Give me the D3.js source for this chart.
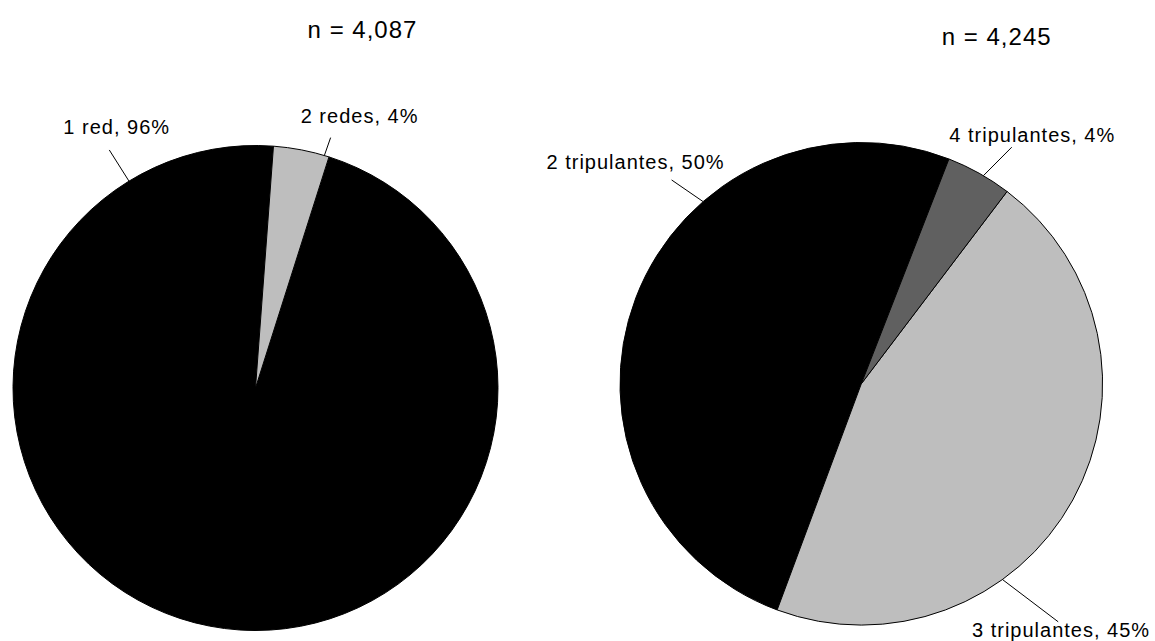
<!DOCTYPE html>
<html>
<head>
<meta charset="utf-8">
<script src="https://cdn.jsdelivr.net/npm/d3@7"></script>
<style>
  html, body { margin: 0; padding: 0; background: #ffffff; }
  svg { display: block; }
  text { font-family: "Liberation Sans", Arial, sans-serif; fill: #000; }
</style>
</head>
<body>
<svg id="chart" width="1155" height="641"></svg>
<script>
// Number of nets per trip
const netCategories = ["1 red", "2 redes"];
const netCounts = [3935, 152];

// Crew size per trip
const crewCategories = ["2 tripulantes", "3 tripulantes", "4 tripulantes"];
const crewCounts = [2133, 1925, 187];

const netFills = ["#000000", "#bebebe"];
const crewFills = ["#000000", "#bebebe", "#606060"];

const svg = d3.select("#chart");
const deg = Math.PI / 180;

// Layout of each pie: centre, radius, start angle (slices run counter-clockwise),
// title position and leader/label placement for every slice.
const panels = [
  {
    categories: netCategories, counts: netCounts, fills: netFills,
    cx: 255.5, cy: 388, r: 242.5, start: 4.25,
    title: { x: 362.5, y: 37.7 },
    labels: [
      { a1: -31.45, a2: -31.56, r2: 1.152, tx: -192.2, ty: -253.7 },
      { a1: 16.5,   a2: 16.7,   r2: 1.078, tx: 45.2,   ty: -264.7 }
    ]
  },
  {
    categories: crewCategories, counts: crewCounts, fills: crewFills,
    cx: 861.3, cy: 383.8, r: 241.3, start: 21.3,
    title: { x: 996.7, y: 45 },
    labels: [
      { a1: -40.97, a2: -42.94, r2: 1.154, tx: -314.8, ty: -214.5 },
      { a1: 144.2,  a2: 140.4,  r2: 1.28,  tx: 110.7,  ty: 253.2 },
      { a1: 30.4,   a2: 32.45,  r2: 1.162, tx: 88,     ty: -242.1 }
    ]
  }
];

const fmt = d3.format(",");

panels.forEach(p => {
  const total = d3.sum(p.counts);
  const pie = d3.pie()
    .sort(null)
    .value(d => d)
    .startAngle(p.start * deg)
    .endAngle(p.start * deg - 2 * Math.PI);
  const arc = d3.arc().innerRadius(0).outerRadius(p.r);

  const g = svg.append("g").attr("transform", `translate(${p.cx},${p.cy})`);

  g.selectAll("path.slice")
    .data(pie(p.counts))
    .join("path")
    .attr("class", "slice")
    .attr("d", arc)
    .attr("fill", (d, i) => p.fills[i])
    .attr("stroke", "#000")
    .attr("stroke-width", 1)
    .attr("stroke-linejoin", "round");

  // leader lines and slice labels
  const polar = (a, rr) => [rr * Math.sin(a * deg), -rr * Math.cos(a * deg)];
  p.labels.forEach((L, i) => {
    const [x1, y1] = polar(L.a1, p.r);
    const [x2, y2] = polar(L.a2, p.r * L.r2);
    g.append("line")
      .attr("x1", x1).attr("y1", y1)
      .attr("x2", x2).attr("y2", y2)
      .attr("stroke", "#000")
      .attr("stroke-width", 1);
    const pct = Math.round(p.counts[i] / total * 100);
    g.append("text")
      .attr("x", L.tx).attr("y", L.ty)
      .attr("font-size", 20)
      .attr("letter-spacing", "1px")
      .text(`${p.categories[i]}, ${pct}%`);
  });

  svg.append("text")
    .attr("x", p.title.x).attr("y", p.title.y)
    .attr("text-anchor", "middle")
    .attr("font-size", 24)
    .attr("letter-spacing", "1px")
    .text(`n = ${fmt(total)}`);
});
</script>
</body>
</html>
